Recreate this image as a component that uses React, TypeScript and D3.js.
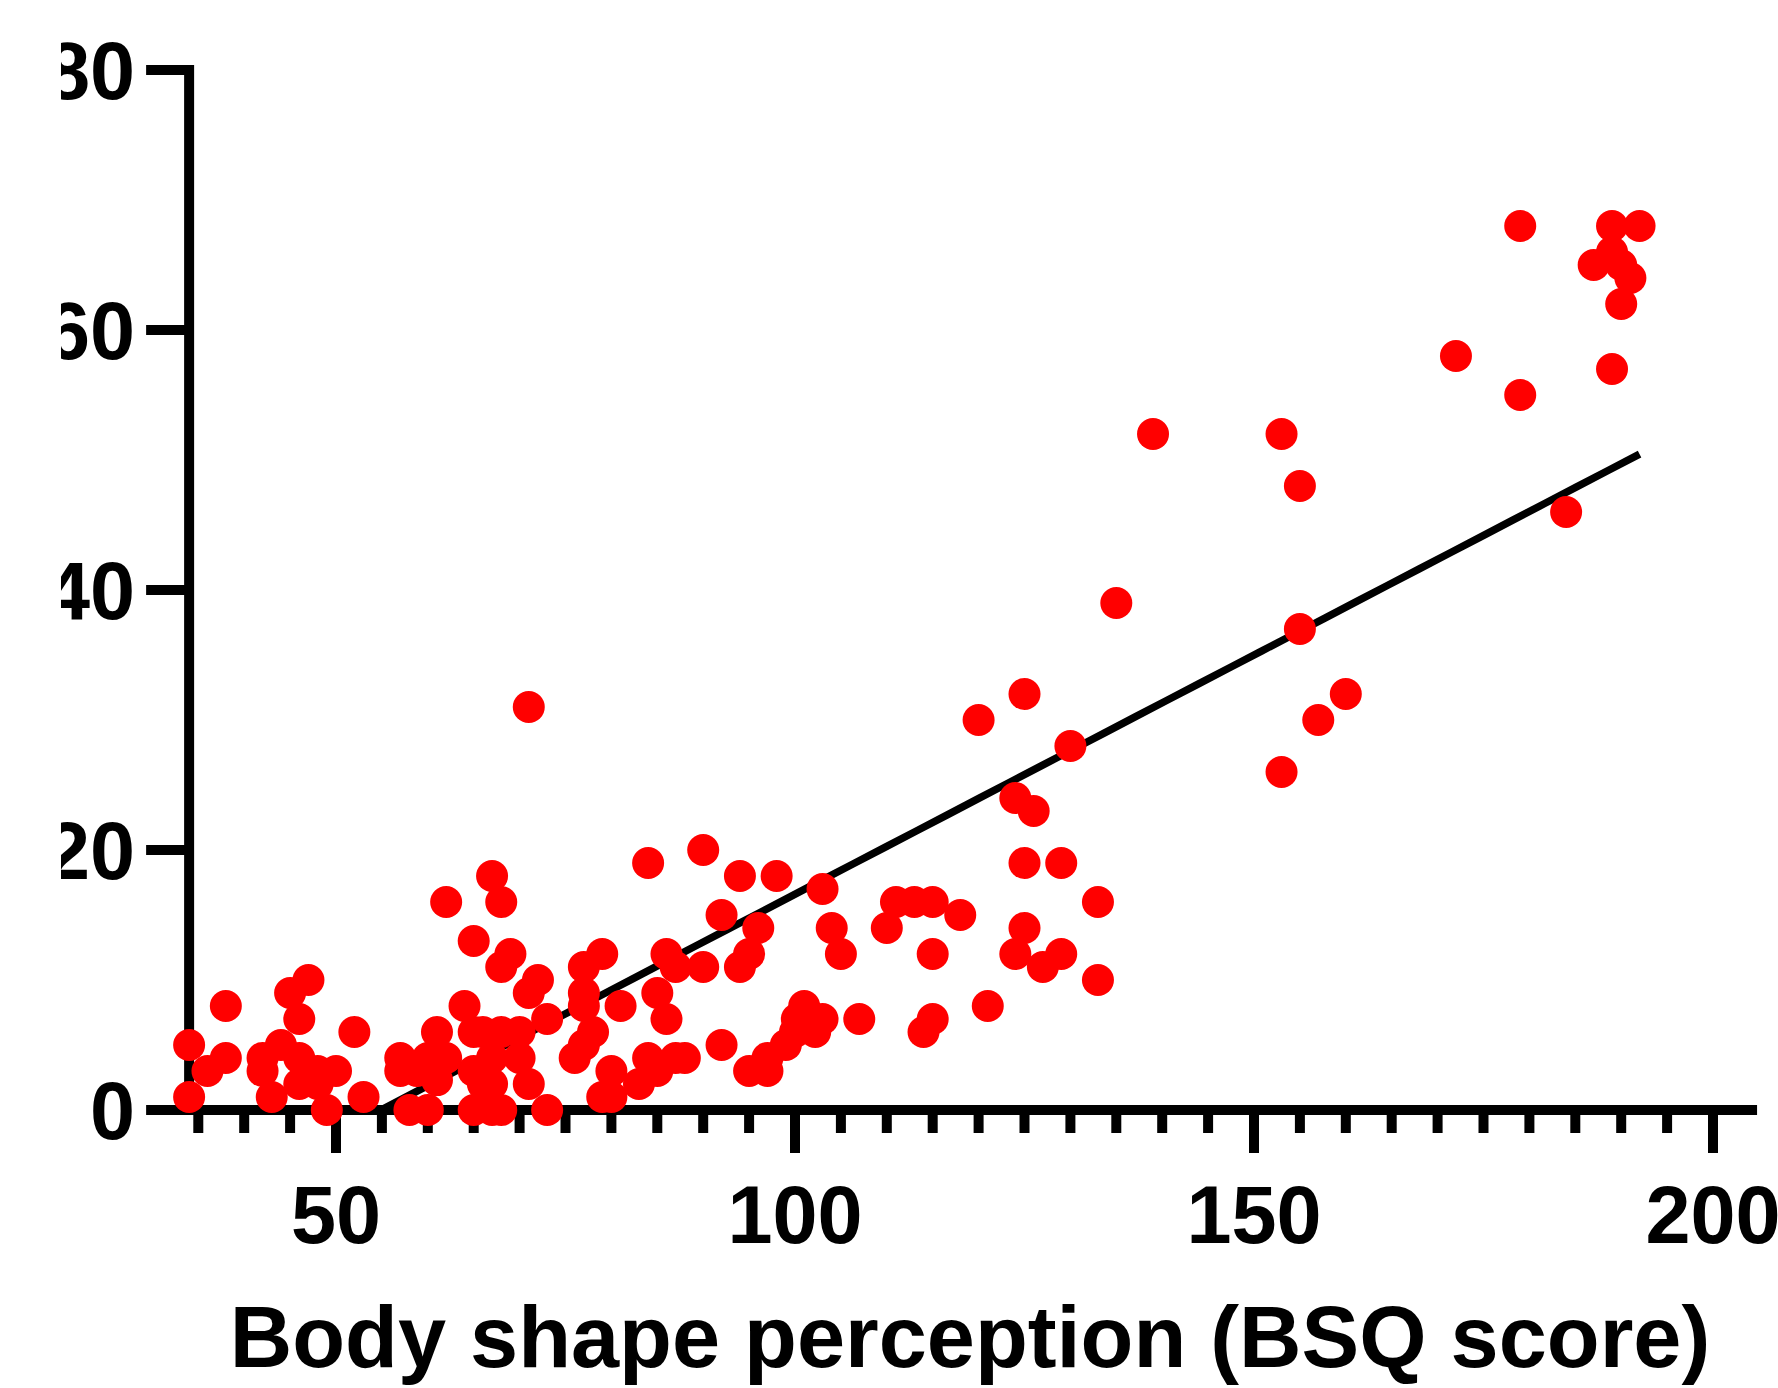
import React from 'react';
import * as d3 from 'd3';

// BSQ score (x) for each participant
const bsqScore = [
  // low BSQ group
  34, 34, 36, 38, 38, 42, 42, 43, 44, 45, 47, 46, 46, 46, 48, 48, 49, 50, 52, 53,
  // dense cluster 55-73
  57, 57, 58.8, 58, 60, 60, 62, 61, 61, 62, 64, 65, 65, 65, 65, 66, 67, 67, 67, 68,
  68, 69, 68, 70, 67, 70, 71, 68, 71, 71, 72, 73, 73, 66,
  // middle group
  77, 79, 77, 77, 81, 78, 77, 76, 80, 79, 80, 83, 84, 84, 85, 86, 85, 88, 87, 86,
  87, 90, 90, 92, 92, 94, 95, 94, 96, 98, 95, 97, 97, 99, 100, 100.2, 101, 102.2, 103, 103,
  104, 105, 107,
  // upper-middle group
  110, 111, 113, 115, 118, 115, 115, 114, 120, 121, 124, 126, 125, 129, 125, 130, 125, 124, 127, 129,
  133, 133, 135, 139,
  // high BSQ group
  153, 155, 155, 160, 157, 153, 172, 179, 179, 184, 189, 192, 189, 187, 190, 191, 190, 189,
];

// outcome score (y) for each participant, same order
const outcome = [
  5, 1, 3, 8, 4, 4, 3, 1, 5, 9, 10, 7, 4, 2, 3, 2, 0, 3, 6, 1,
  4, 3, 3, 0, 0, 4, 4, 6, 2.3, 16, 8, 13, 6, 3, 0, 6, 18, 0, 4, 16,
  11, 12, 6, 6, 2, 4, 2, 0, 31, 9, 10, 7, 0, 2,
  11, 12, 9, 8, 8, 6, 5, 4, 3, 1, 1, 2, 4, 19, 9, 7, 3, 4, 4, 12,
  11, 11, 20, 15, 5, 18, 12, 11, 14, 18, 3, 3, 4, 5, 6, 7, 8, 6, 7, 17,
  14, 12, 7,
  14, 16, 16, 16, 15, 12, 7, 6, 30, 8, 24, 23, 19, 19, 32, 28, 14, 12, 11, 12,
  16, 10, 39, 52,
  52, 48, 37, 32, 30, 26, 58, 68, 55, 46, 68, 68, 66, 65, 65, 64, 62, 57,
];

const xMajorTicks = [50, 100, 150, 200];
const xMinorStep = 5;
const yTicks = [0, 20, 40, 60, 80];
const xAxisStart = 34;
const xAxisEnd = 204.8;

// linear regression line as drawn (slope, intercept) over data range
const fitSlope = 0.368;
const fitIntercept = -20.2;
const fitXMax = 192;

const xTitle = 'Body shape perception (BSQ score)';

const FONT = '"Liberation Sans", Arial, Helvetica, sans-serif';

export default function App() {
  const x = d3.scaleLinear().domain([50, 200]).range([336, 1713]);
  const y = d3.scaleLinear().domain([0, 80]).range([1110, 70]);

  const axisX = x(xAxisStart);
  const tickLen = 43;
  const minorLen = 23;
  const lw = 10;

  const minorTicks = d3
    .range(35, 201, xMinorStep)
    .filter((v) => !xMajorTicks.includes(v));

  const fitStart = Math.max(xAxisStart, -fitIntercept / fitSlope);
  const fitPts = d3.range(0, 41).map((i) => {
    const xv = fitStart + ((fitXMax - fitStart) * i) / 40;
    return [xv, fitSlope * xv + fitIntercept] as [number, number];
  });
  const fitPath = d3
    .line<[number, number]>()
    .x((d) => x(d[0]))
    .y((d) => y(d[1]))(fitPts);

  const points = bsqScore.map((b, i) => ({ b, v: outcome[i] }));

  return (
    <svg
      width={1778}
      height={1388}
      style={{ position: 'absolute', left: 0, top: 0, background: '#fff' }}
      fontFamily={FONT}
    >
      <defs>
        <clipPath id="ylabClip">
          <rect x={61} y={0} width={200} height={1388} />
        </clipPath>
      </defs>
      <rect width={1778} height={1388} fill="#fff" />

      {/* minor x ticks */}
      {minorTicks.map((v) => (
        <line key={'mn' + v} x1={x(v)} x2={x(v)} y1={y(0)} y2={y(0) + minorLen} stroke="#000" strokeWidth={lw} />
      ))}
      {/* major x ticks */}
      {xMajorTicks.map((v) => (
        <line key={'mj' + v} x1={x(v)} x2={x(v)} y1={y(0)} y2={y(0) + tickLen} stroke="#000" strokeWidth={lw} />
      ))}
      {/* y ticks */}
      {yTicks.filter((v) => v !== 0 && v !== 80).map((v) => (
        <line key={'yt' + v} x1={axisX - tickLen} x2={axisX} y1={y(v)} y2={y(v)} stroke="#000" strokeWidth={lw} />
      ))}
      {/* y axis with top tick */}
      <path
        d={`M${axisX - tickLen},${y(80)}H${axisX}V${y(0)}`}
        fill="none"
        stroke="#000"
        strokeWidth={lw}
        strokeLinejoin="miter"
      />
      {/* x axis with zero tick */}
      <path d={`M${axisX - tickLen},${y(0)}H${x(xAxisEnd)}`} fill="none" stroke="#000" strokeWidth={lw} />

      {/* x tick labels */}
      {xMajorTicks.map((v) => (
        <text key={'xl' + v} x={x(v)} y={1243} textAnchor="middle" fontSize={81} fontWeight="bold" fill="#000">
          {v}
        </text>
      ))}
      {/* y tick labels */}
      <g clipPath="url(#ylabClip)">
        {yTicks.map((v) => (
          <text key={'yl' + v} x={135} y={y(v) + 29} textAnchor="end" fontSize={81} fontWeight="bold" fill="#000">
            {v}
          </text>
        ))}
      </g>

      {/* title */}
      <text x={970} y={1367} textAnchor="middle" fontSize={86.5} fontWeight="bold" fill="#000">
        {xTitle}
      </text>

      {/* regression line */}
      <path d={fitPath ?? ''} fill="none" stroke="#000" strokeWidth={7.5} />

      {/* data points */}
      {points.map((p, i) => (
        <circle key={i} cx={x(p.b)} cy={y(p.v)} r={16} fill="#ff0000" />
      ))}
    </svg>
  );
}
